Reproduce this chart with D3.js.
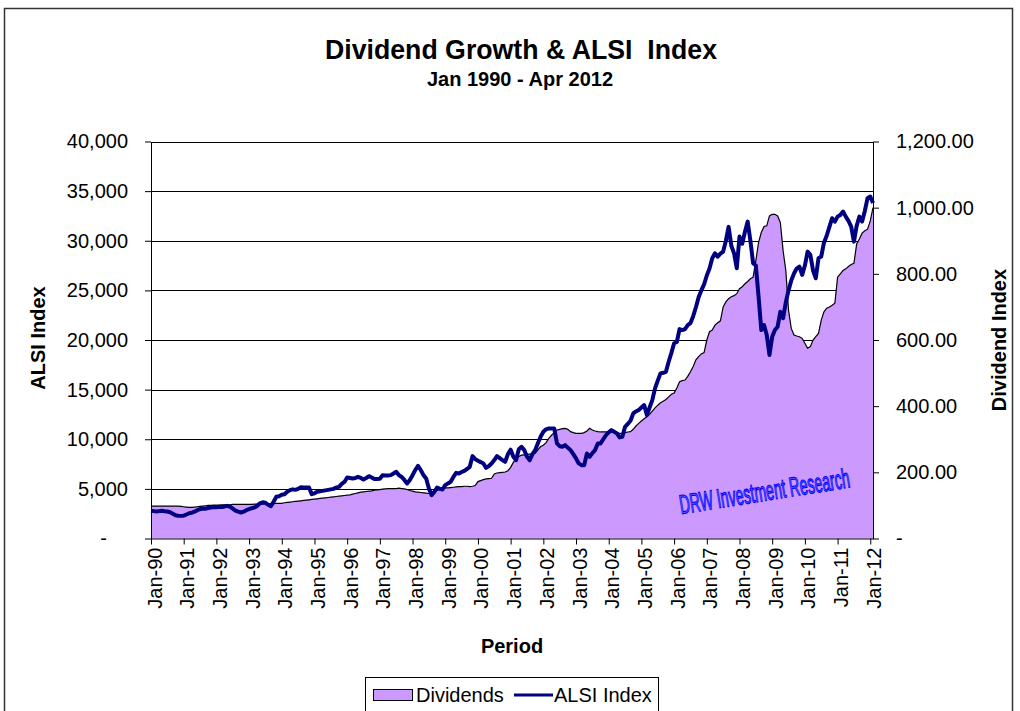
<!DOCTYPE html>
<html>
<head>
<meta charset="utf-8">
<script src="https://cdn.jsdelivr.net/npm/d3@7"></script>
<style>
body { margin: 0; background: #fff; }
svg { font-family: "Liberation Sans", Arial, sans-serif; }
</style>
</head>
<body>
<svg id="chart" width="1020" height="711"></svg>
<script>
// monthly values, Jan 1990 onwards
var alsi = [
  2800, 2760, 2720, 2760, 2800, 2750, 2720, 2650, 2500, 2350, 2300, 2280,
  2300, 2420, 2550, 2600, 2700, 2850, 2950, 3020, 3000, 3080, 3120, 3180,
  3150, 3190, 3180, 3230, 3290, 3200, 3000, 2800, 2700, 2620, 2700, 2850,
  2950, 3050, 3130, 3300, 3550, 3650, 3600, 3400, 3260, 3700, 4200, 4250,
  4400, 4450, 4700, 4870, 4950, 4900, 5000, 5170, 5150, 5140, 5150, 4470,
  4550, 4700, 4750, 4800, 4850, 4900, 4950, 5000, 5150, 5200, 5500, 5700,
  6150, 6100, 6050, 6100, 6210, 6100, 5950, 6100, 6280, 6150, 5990, 6000,
  6020, 6380, 6350, 6350, 6384, 6550, 6720, 6384, 6200, 5900, 5550, 5900,
  6384, 6900, 7320, 6900, 6384, 6051, 5043, 4370, 4700, 5140, 5000, 4941,
  5378, 5550, 5708, 6200, 6616, 6550, 6700, 6817, 7000, 7220, 8300, 8000,
  7830, 7700, 7560, 7120, 7300, 7560, 7900, 8300, 8100, 7900, 7730, 8500,
  8950, 8236, 7900, 9000, 9238, 8905, 8230, 7897, 8500, 8905, 9600, 10247,
  10751, 11000, 11094, 11094, 11094, 9581, 9300, 9238, 9410, 9150, 8905, 8500,
  8068, 7564, 7392, 7392, 8572, 8236, 8600, 8905, 9581, 9581, 10000, 10418,
  10700, 10922, 10750, 10590, 10186, 10250, 11255, 11550, 11860, 12606, 12800, 12939,
  13200, 13443, 12435, 13200, 13947, 15128, 15900, 16640, 16700, 16800, 17810, 18700,
  19666, 19800, 21100, 21000, 21100, 21500, 21700, 22400, 23300, 24300, 25000, 25600,
  26500, 27200, 28238, 28742, 28400, 28700, 28903, 30000, 31400, 29500, 28742, 27229,
  30417, 29700, 30900, 31929, 30000, 27733, 27500, 24366, 21007, 21511, 20500, 18486,
  20332, 21000, 21343, 22853, 22200, 23800, 25000, 26000, 26700, 27200, 27400, 26553,
  27500, 28903, 28574, 27000, 26217, 28238, 28400, 29800, 30500, 31400, 32271, 31929,
  32433, 32600, 32942, 32433, 32000, 31425, 29914, 31500, 32433, 31929, 33000, 34289,
  34450, 33800
];
var dividends = [
  98, 98, 98, 98, 98, 98, 98, 98, 98, 98, 98, 97,
  96, 95, 94, 94, 95, 96, 97, 98, 99, 100, 100, 101,
  101, 101, 102, 102, 102, 102, 103, 103, 103, 103, 103, 103,
  103, 103, 104, 104, 104, 104, 105, 105, 105, 105, 106, 106,
  106, 108, 109, 110, 111, 112, 113, 114, 115, 116, 117, 118,
  119, 120, 121, 122, 123, 124, 125, 126, 127, 128, 129, 130,
  131, 132, 134, 136, 138, 140, 141, 142, 143, 144, 146, 147,
  148, 149, 150, 151, 151, 151, 151, 152, 151, 150, 148, 145,
  143, 141, 140, 139, 138, 137, 136, 136, 140, 145, 150, 153,
  153, 153, 154, 155, 156, 157, 157, 158, 158, 157, 158, 160,
  172, 175, 178, 180, 181, 182, 195, 198, 199, 200, 201, 205,
  215, 230, 242, 248, 252, 253, 254, 255, 256, 257, 268, 278,
  282, 290, 303, 312, 320, 328, 330, 332, 333, 330, 323, 320,
  318, 318, 318, 320, 325, 333, 328, 325, 323, 322, 322, 322,
  322, 322, 321, 320, 318, 318, 320, 322, 323, 330, 340, 348,
  355, 362, 368, 375, 385, 395, 403, 410, 415, 420, 428, 436,
  440, 455, 474, 477, 479, 490, 504, 520, 540, 550, 558, 562,
  600, 625, 630, 645, 652, 658, 700, 715, 725, 731, 734, 740,
  755, 761, 770, 777, 785, 790, 840, 895, 925, 943, 945, 975,
  980, 980, 975, 955, 870, 810, 690, 635, 615, 612, 610, 605,
  590, 575, 580, 600, 610, 620, 660, 685, 696, 700, 705, 711,
  790, 800, 810, 815, 822, 828, 832, 890, 905, 923, 930, 935,
  960, 1000
];
var yearLabels = ['Jan-90', 'Jan-91', 'Jan-92', 'Jan-93', 'Jan-94', 'Jan-95', 'Jan-96', 'Jan-97',
  'Jan-98', 'Jan-99', 'Jan-00', 'Jan-01', 'Jan-02', 'Jan-03', 'Jan-04', 'Jan-05', 'Jan-06',
  'Jan-07', 'Jan-08', 'Jan-09', 'Jan-10', 'Jan-11', 'Jan-12'];
var leftTicks = [0, 5000, 10000, 15000, 20000, 25000, 30000, 35000, 40000];
var rightTicks = [0, 200, 400, 600, 800, 1000, 1200];

var plot = { left: 151, right: 873, top: 141.5, bottom: 538.5 };
var svg = d3.select('#chart');

var x = d3.scaleLinear().domain([0, alsi.length - 1]).range([plot.left, plot.right]);
var yLeft = d3.scaleLinear().domain([0, 40000]).range([plot.bottom, plot.top]);
var yRight = d3.scaleLinear().domain([0, 1200]).range([plot.bottom, plot.top]);

// outer frame
svg.append('rect')
  .attr('x', 4.5).attr('y', 8.5)
  .attr('width', 1008).attr('height', 760)
  .style('fill', 'none').style('stroke', '#333').style('stroke-width', 1.5);

// titles
svg.append('text')
  .attr('x', 521).attr('y', 59)
  .attr('text-anchor', 'middle')
  .attr('textLength', 392).attr('lengthAdjust', 'spacingAndGlyphs')
  .style('font-size', '27px').style('font-weight', 'bold')
  .text('Dividend Growth & ALSI\u00a0 Index');
svg.append('text')
  .attr('x', 520).attr('y', 86)
  .attr('text-anchor', 'middle')
  .style('font-size', '20px').style('font-weight', 'bold')
  .text('Jan 1990 - Apr 2012');

// gridlines
svg.append('g').selectAll('line').data(leftTicks.slice(1)).enter()
  .append('line')
  .attr('x1', plot.left).attr('x2', plot.right)
  .attr('y1', function(d) { return Math.round(yLeft(d)) + 0.5; })
  .attr('y2', function(d) { return Math.round(yLeft(d)) + 0.5; })
  .style('stroke', '#000').style('stroke-width', 1);

// dividends area
var area = d3.area()
  .x(function(d, i) { return x(i); })
  .y0(yRight(0))
  .y1(function(d) { return yRight(d); });
svg.append('path').datum(dividends)
  .attr('d', area)
  .style('fill', '#cc99ff');
svg.append('path').datum(dividends)
  .attr('d', d3.line().x(function(d, i) { return x(i); }).y(function(d) { return yRight(d); }))
  .style('fill', 'none').style('stroke', '#000').style('stroke-width', 1.2);

// watermark
svg.append('text')
  .attr('transform', 'translate(681,514) rotate(-9)')
  .attr('textLength', 172).attr('lengthAdjust', 'spacingAndGlyphs')
  .style('font-size', '27px')
  .style('fill', '#5a5aff').style('stroke', '#0000ff').style('stroke-width', 1.1)
  .text('DRW Investment Research');

// ALSI line
svg.append('path').datum(alsi)
  .attr('d', d3.line().x(function(d, i) { return x(i); }).y(function(d) { return yLeft(d); }))
  .style('fill', 'none').style('stroke', '#000080').style('stroke-width', 4)
  .style('stroke-linejoin', 'round');

// axes
var leftAxis = svg.append('g')
  .attr('transform', 'translate(' + plot.left + ',0)')
  .call(d3.axisLeft(yLeft).tickValues(leftTicks).tickSize(6).tickSizeOuter(0).tickPadding(17)
    .tickFormat(function(d) { return d === 0 ? '-' : d3.format(',')(d); }));
leftAxis.selectAll('.tick text').filter(function(d) { return d === 0; }).attr('dx', '-21');

var rightAxis = svg.append('g')
  .attr('transform', 'translate(' + plot.right + ',0)')
  .call(d3.axisRight(yRight).tickValues(rightTicks).tickSize(6).tickSizeOuter(0).tickPadding(17)
    .tickFormat(function(d) { return d === 0 ? '-' : d3.format(',.2f')(d); }));

var bottomAxis = svg.append('g')
  .attr('transform', 'translate(0,' + plot.bottom + ')')
  .call(d3.axisBottom(x).tickValues(d3.range(0, yearLabels.length * 12, 12)).tickSize(6).tickSizeOuter(0)
    .tickFormat(function(d, i) { return yearLabels[i]; }));
bottomAxis.selectAll('.tick text')
  .attr('transform', 'rotate(-90)')
  .attr('x', -9).attr('y', 3).attr('dy', '0.35em')
  .style('text-anchor', 'end');

[leftAxis, rightAxis, bottomAxis].forEach(function(a) {
  a.selectAll('text').style('font-size', '20px').style('fill', '#000')
    .style('font-family', '"Liberation Sans", Arial, sans-serif');
  a.selectAll('line, path').style('stroke', '#000').style('stroke-width', 1);
});

// axis titles
svg.append('text')
  .attr('transform', 'translate(45,338) rotate(-90)')
  .attr('text-anchor', 'middle')
  .style('font-size', '20px').style('font-weight', 'bold')
  .text('ALSI Index');
svg.append('text')
  .attr('transform', 'translate(1006,340) rotate(-90)')
  .attr('text-anchor', 'middle')
  .style('font-size', '20px').style('font-weight', 'bold')
  .text('Dividend Index');
svg.append('text')
  .attr('x', 512).attr('y', 653)
  .attr('text-anchor', 'middle')
  .style('font-size', '20px').style('font-weight', 'bold')
  .text('Period');

// legend
var legend = svg.append('g');
legend.append('rect')
  .attr('x', 365.5).attr('y', 677.5).attr('width', 293).attr('height', 50)
  .style('fill', '#fff').style('stroke', '#000');
legend.append('rect')
  .attr('x', 373.5).attr('y', 689.5).attr('width', 39).attr('height', 11)
  .style('fill', '#cc99ff').style('stroke', '#000');
legend.append('text')
  .attr('x', 416).attr('y', 702)
  .style('font-size', '20px')
  .text('Dividends');
legend.append('line')
  .attr('x1', 514).attr('x2', 553).attr('y1', 695).attr('y2', 695)
  .style('stroke', '#000080').style('stroke-width', 3);
legend.append('text')
  .attr('x', 554).attr('y', 702)
  .style('font-size', '20px')
  .text('ALSI Index');
</script>
</body>
</html>
